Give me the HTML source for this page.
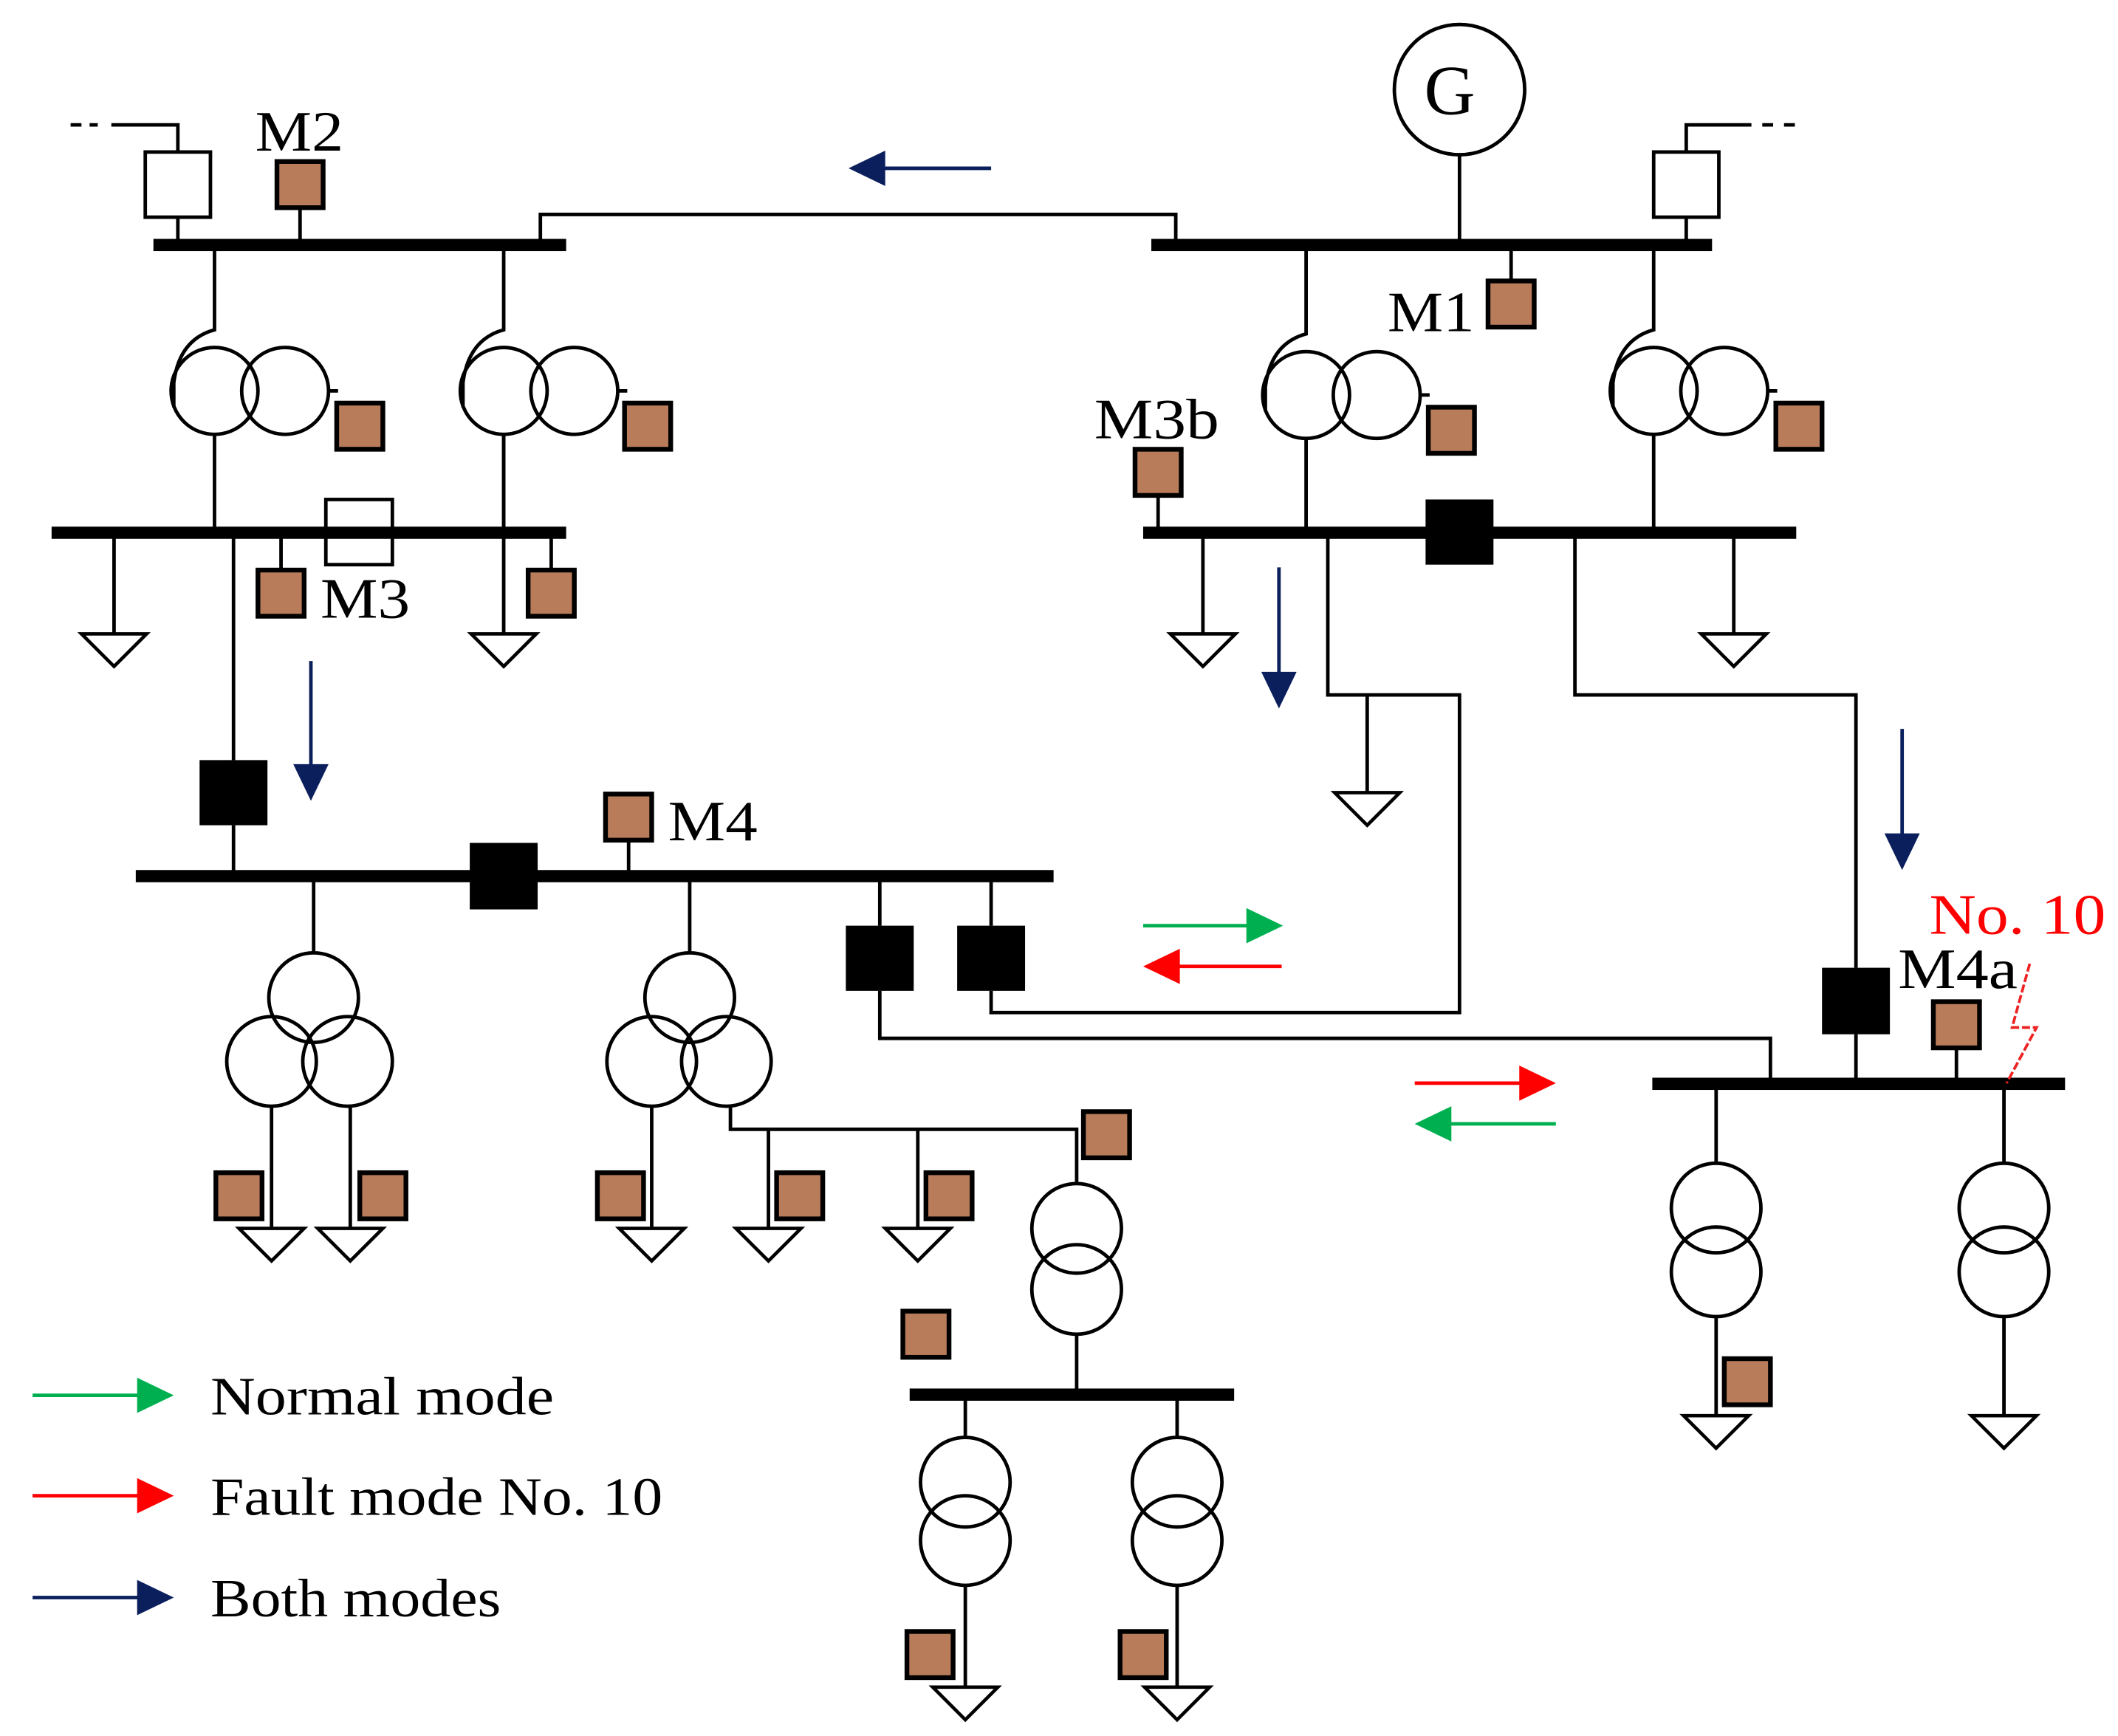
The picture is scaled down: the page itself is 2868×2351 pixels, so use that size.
<!DOCTYPE html>
<html><head><meta charset="utf-8"><style>html,body{margin:0;padding:0;background:#fff}svg{display:block}</style></head><body>
<svg width="2868" height="2351" viewBox="0 0 1560 1279" preserveAspectRatio="none" xmlns="http://www.w3.org/2000/svg">
<defs>
<g id="gnd"><polygon points="-24,0 24,0 0,24" fill="#fff" stroke="#000" stroke-width="2.5"/></g>
<g id="msq"><rect x="0" y="0" width="34" height="34" fill="#b87c5a" stroke="#000" stroke-width="3.5"/></g>
</defs>
<g fill="none" stroke="#000" stroke-width="2.6">
<path d="M52 92H60M66 92H72M82 92H131V112M131 160V180"/>
<rect x="107" y="112" width="48" height="48" fill="#fff"/>
<path d="M221 153V180"/>
<path d="M398 180V158H866V180"/>
<path d="M1075 114V180"/>
<circle cx="1075" cy="66" r="48"/>
<path d="M1242 112V92H1290M1298 92H1306M1314 92H1322M1242 160V180"/>
<rect x="1218" y="112" width="48" height="48" fill="#fff"/>
<path d="M1113 180V207"/>
<g id="t2a">
<path d="M158 180V243Q132 250 128 282V300"/>
<circle cx="158" cy="288" r="32"/><circle cx="210" cy="288" r="32"/>
<path d="M158 320V392M242 288H249"/>
</g>
<use href="#t2a" x="213"/>
<use href="#t2a" x="804" y="3"/>
<use href="#t2a" x="1060"/>
<path d="M84 392V467M172 392V560M172 608V645M207 392V420M406 392V420M371 320V467"/>
<rect x="240" y="368" width="49" height="48" fill="#fff"/>
<path d="M853 365V392M886 392V467M1277 392V467"/>
<path d="M978 392V512H1075V746H730V730M1007 512V584"/>
<path d="M1160 392V512H1367V713M1367 762V798"/>
<path d="M463 619V645M648 645V682M730 645V682M648 730V765H1304V798"/>
<path d="M231 645V702M200 815V905M258 815V905"/>
<circle cx="231" cy="735" r="33"/><circle cx="200" cy="782" r="33"/><circle cx="256" cy="782" r="33"/>
<path d="M508 645V702M480 815V905M538 815V832H793V872M566 832V905M676 832V905"/>
<circle cx="508" cy="735" r="33"/><circle cx="480" cy="782" r="33"/><circle cx="535" cy="782" r="33"/>
<circle cx="793" cy="905" r="33"/><circle cx="793" cy="950" r="33"/>
<path d="M793 983V1027"/>
<path d="M711 1027V1059M711 1168V1243M867 1027V1059M867 1168V1243"/>
<circle cx="711" cy="1092" r="33"/><circle cx="711" cy="1135" r="33"/>
<circle cx="867" cy="1092" r="33"/><circle cx="867" cy="1135" r="33"/>
<path d="M1441 772V798M1264 798V857M1264 970V1043M1476 798V857M1476 970V1043"/>
<circle cx="1264" cy="890" r="33"/><circle cx="1264" cy="937" r="33"/>
<circle cx="1476" cy="890" r="33"/><circle cx="1476" cy="937" r="33"/>
</g>
<g fill="#000">
<rect x="113" y="176" width="304" height="9"/>
<rect x="848" y="176" width="413" height="9"/>
<rect x="38" y="388" width="379" height="9"/>
<rect x="842" y="388" width="481" height="9"/>
<rect x="100" y="641" width="676" height="9"/>
<rect x="670" y="1023" width="239" height="9"/>
<rect x="1217" y="794" width="304" height="9"/>
<rect x="147" y="560" width="50" height="48"/>
<rect x="346" y="621" width="50" height="49"/>
<rect x="1050" y="368" width="50" height="48"/>
<rect x="623" y="682" width="50" height="48"/>
<rect x="705" y="682" width="50" height="48"/>
<rect x="1342" y="713" width="50" height="49"/>
</g>
<use href="#gnd" x="84" y="467"/><use href="#gnd" x="371" y="467"/>
<use href="#gnd" x="886" y="467"/><use href="#gnd" x="1277" y="467"/>
<use href="#gnd" x="1007" y="584"/>
<use href="#gnd" x="200" y="905"/><use href="#gnd" x="258" y="905"/>
<use href="#gnd" x="480" y="905"/><use href="#gnd" x="566" y="905"/><use href="#gnd" x="676" y="905"/>
<use href="#gnd" x="711" y="1243"/><use href="#gnd" x="867" y="1243"/>
<use href="#gnd" x="1264" y="1043"/><use href="#gnd" x="1476" y="1043"/>
<use href="#msq" x="204" y="119"/><use href="#msq" x="1096" y="207"/>
<use href="#msq" x="248" y="297"/><use href="#msq" x="460" y="297"/>
<use href="#msq" x="1052" y="300"/><use href="#msq" x="1308" y="297"/>
<use href="#msq" x="836" y="331"/>
<use href="#msq" x="190" y="420"/><use href="#msq" x="389" y="420"/>
<use href="#msq" x="446" y="585"/>
<use href="#msq" x="159" y="864"/><use href="#msq" x="265" y="864"/>
<use href="#msq" x="440" y="864"/><use href="#msq" x="572" y="864"/><use href="#msq" x="682" y="864"/>
<use href="#msq" x="798" y="819"/><use href="#msq" x="665" y="966"/>
<use href="#msq" x="668" y="1202"/><use href="#msq" x="825" y="1202"/>
<use href="#msq" x="1424" y="738"/><use href="#msq" x="1270" y="1001"/>
<g stroke-width="2.6">
<path d="M730 124H645" stroke="#0a1f5c"/><polygon points="625,124 652,111 652,137" fill="#0a1f5c"/>
<path d="M229 487V568" stroke="#0a1f5c"/><polygon points="229,590 216,563 242,563" fill="#0a1f5c"/>
<path d="M942 418V500" stroke="#0a1f5c"/><polygon points="942,522 929,495 955,495" fill="#0a1f5c"/>
<path d="M1401 537V618" stroke="#0a1f5c"/><polygon points="1401,641 1388,614 1414,614" fill="#0a1f5c"/>
<path d="M842 682H925" stroke="#00b050"/><polygon points="945,682 918,669 918,695" fill="#00b050"/>
<path d="M944 712H862" stroke="#ff0000"/><polygon points="842,712 869,699 869,725" fill="#ff0000"/>
<path d="M1042 798H1126" stroke="#ff0000"/><polygon points="1146,798 1119,785 1119,811" fill="#ff0000"/>
<path d="M1146 828H1062" stroke="#00b050"/><polygon points="1042,828 1069,815 1069,841" fill="#00b050"/>
<path d="M24 1028H108" stroke="#00b050"/><polygon points="128,1028 101,1015 101,1041" fill="#00b050"/>
<path d="M24 1102H108" stroke="#ff0000"/><polygon points="128,1102 101,1089 101,1115" fill="#ff0000"/>
<path d="M24 1177H108" stroke="#0a1f5c"/><polygon points="128,1177 101,1164 101,1190" fill="#0a1f5c"/>
</g>
<path d="M1495 710L1482 757H1500L1478 798" fill="none" stroke="#ee2222" stroke-width="2" stroke-dasharray="6,2"/>
<g font-family="Liberation Serif, serif" font-size="42" fill="#000">
<text x="188" y="111" textLength="65" lengthAdjust="spacingAndGlyphs">M2</text>
<text x="1022" y="244" textLength="64" lengthAdjust="spacingAndGlyphs">M1</text>
<text x="806" y="323" textLength="92" lengthAdjust="spacingAndGlyphs">M3b</text>
<text x="236" y="455" textLength="66" lengthAdjust="spacingAndGlyphs">M3</text>
<text x="492" y="619" textLength="66" lengthAdjust="spacingAndGlyphs">M4</text>
<text x="1398" y="728" textLength="88" lengthAdjust="spacingAndGlyphs">M4a</text>
<text x="1421" y="688" fill="#ff0000" textLength="130" lengthAdjust="spacingAndGlyphs">No. 10</text>
<text x="1049" y="84" font-size="52">G</text>
<text x="155" y="1042" font-size="40" textLength="253" lengthAdjust="spacingAndGlyphs">Normal mode</text>
<text x="155" y="1116" font-size="40" textLength="333" lengthAdjust="spacingAndGlyphs">Fault mode No. 10</text>
<text x="155" y="1191" font-size="40" textLength="214" lengthAdjust="spacingAndGlyphs">Both modes</text>
</g>
</svg>
</body></html>
